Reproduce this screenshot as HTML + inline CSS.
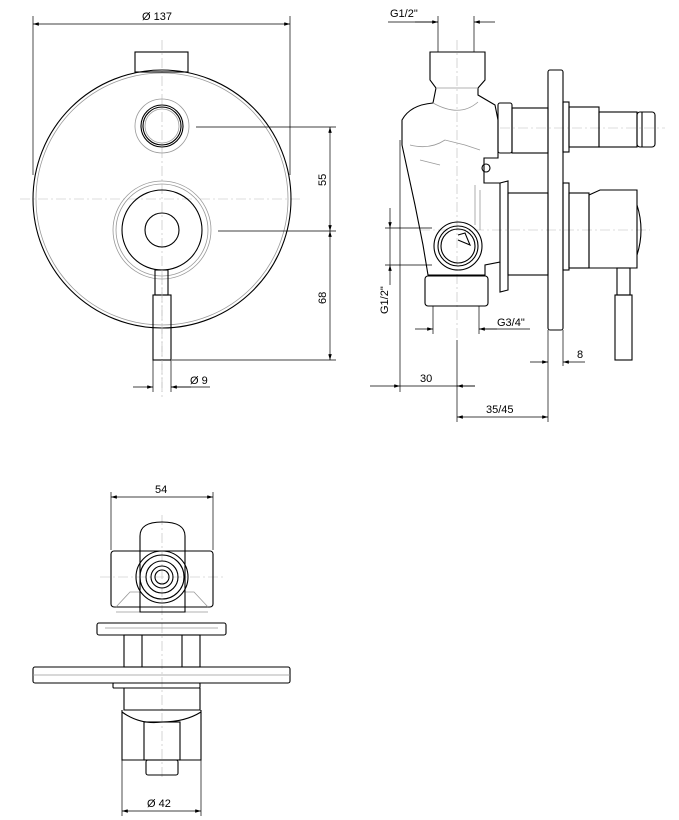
<!DOCTYPE html>
<html><head><meta charset="utf-8"><style>
html,body{margin:0;padding:0;background:#fff}
svg{display:block}
text{font-family:"Liberation Sans",sans-serif;font-size:11px;fill:#000}
.k{stroke:#000;stroke-width:1.1;fill:none}
.g{stroke:#999;stroke-width:0.8;fill:none}
.c{stroke:#bbb;stroke-width:0.6;fill:none;stroke-dasharray:10 3 2 3}
.d{stroke:#000;stroke-width:0.7;fill:none}
</style></head><body>
<svg width="679" height="820" viewBox="0 0 679 820" xmlns="http://www.w3.org/2000/svg">
<defs>
<marker id="a" viewBox="0 0 10 6" refX="10" refY="3" markerWidth="9" markerHeight="5" orient="auto-start-reverse"><path d="M0,0L10,3L0,6z" fill="#000"/></marker>
</defs>

<!-- FRONT VIEW -->
<line class="c" x1="20" y1="199" x2="300" y2="199"/>
<line class="c" x1="162" y1="40" x2="162" y2="400"/>
<rect class="k" x="135" y="52" width="53" height="20"/>
<circle cx="162" cy="199" r="129" fill="#fff" class="k"/>
<circle class="g" cx="162" cy="199" r="126"/>
<circle class="g" cx="162" cy="126" r="27"/>
<circle class="k" cx="162" cy="126" r="21"/>
<circle class="k" cx="162" cy="126" r="19"/>
<circle class="g" cx="162" cy="126" r="17"/>
<circle class="g" cx="162" cy="230" r="49"/>
<circle class="g" cx="162" cy="230" r="46"/>
<circle class="k" cx="162" cy="230" r="40"/>
<circle class="k" cx="162" cy="230" r="17"/>
<rect class="k" x="155" y="270" width="13" height="25" fill="#fff"/>
<rect class="k" x="153" y="295" width="18" height="65" fill="#fff"/>
<line class="c" x1="162" y1="270" x2="162" y2="392"/>
<!-- dims front -->
<line class="d" x1="33" y1="16" x2="33" y2="175"/>
<line class="d" x1="290" y1="16" x2="290" y2="175"/>
<line class="d" x1="33" y1="24" x2="290" y2="24" marker-start="url(#a)" marker-end="url(#a)"/>
<text x="142" y="20">Ø 137</text>
<line class="d" x1="196" y1="127" x2="336" y2="127"/>
<line class="d" x1="218" y1="231" x2="336" y2="231"/>
<line class="d" x1="172" y1="360" x2="336" y2="360"/>
<line class="d" x1="330" y1="127" x2="330" y2="231" marker-start="url(#a)" marker-end="url(#a)"/>
<line class="d" x1="330" y1="231" x2="330" y2="360" marker-start="url(#a)" marker-end="url(#a)"/>
<text transform="translate(326,186) rotate(-90)">55</text>
<text transform="translate(326,304) rotate(-90)">68</text>
<line class="d" x1="153" y1="360" x2="153" y2="392"/>
<line class="d" x1="171" y1="360" x2="171" y2="392"/>
<line class="d" x1="133" y1="387" x2="153" y2="387" marker-end="url(#a)"/>
<line class="d" x1="171" y1="387" x2="210" y2="387"/>
<line class="d" x1="191" y1="387" x2="171" y2="387" marker-end="url(#a)"/>
<text x="190" y="384">Ø 9</text>

<!-- SIDE VIEW -->
<line class="c" x1="457" y1="40" x2="457" y2="340"/>
<line class="c" x1="500" y1="128" x2="665" y2="128"/>
<line class="c" x1="420" y1="230" x2="650" y2="230"/>
<path class="k" d="M430,80 L430,52 L485,52 L485,80 L478,88 L478,95 L495,105 L498,120 L498,158 L484,158 L484,183 L500,183 L500,262 L485,265 L485,275 L428,275 L423,245 L415,205 L402,145 L402,120 Q410,105 433,103 L436,88 Z" fill="#fff"/>
<path class="g" d="M436,88 L478,88 M433,103 Q460,118 478,102 M410,145 Q430,150 445,140 L465,145 L480,150 M420,160 L440,165 M475,185 L475,225 M480,190 L480,230"/>
<circle class="k" cx="486" cy="168" r="4"/>
<rect class="k" x="498" y="103" width="14" height="50" rx="2"/>
<rect class="k" x="512" y="108" width="36" height="45"/>
<path class="k" d="M500,183 L508,181 L508,290 L500,292 L500,262" />
<rect class="k" x="508" y="193" width="40" height="82"/>
<circle class="k" cx="458" cy="246" r="24" fill="#fff"/>
<circle class="k" cx="458" cy="246" r="20"/>
<circle class="k" cx="458" cy="246" r="17"/>
<path class="k" d="M458,235 L465,233 L470,245 L458,240"/>
<rect class="k" x="425" y="276" width="63" height="30" rx="3" fill="#fff"/>
<rect class="k" x="548" y="70" width="15" height="260" rx="2" fill="#fff"/>
<rect class="k" x="563" y="102" width="6" height="50"/>
<rect class="k" x="569" y="107" width="30" height="40"/>
<rect class="k" x="599" y="112" width="38" height="35"/>
<rect class="k" x="637" y="112" width="18" height="35" rx="3"/>
<line class="k" x1="642" y1="112" x2="642" y2="147"/>
<rect class="k" x="563" y="183" width="6" height="87"/>
<rect class="k" x="569" y="193" width="20" height="75"/>
<path class="k" d="M589,195 L600,190 L637,190 L637,268 L589,268 Z"/>
<path class="k" d="M637,205 Q645,230 637,255"/>
<rect class="k" x="617" y="268" width="13" height="27"/>
<rect class="k" x="615" y="295" width="17" height="65"/>
<!-- side dims -->
<text x="390" y="17">G1/2"</text>
<line class="d" x1="438" y1="16" x2="438" y2="52"/>
<line class="d" x1="474" y1="16" x2="474" y2="52"/>
<line class="d" x1="388" y1="22" x2="438" y2="22"/>
<line class="d" x1="415" y1="22" x2="438" y2="22" marker-end="url(#a)"/>
<line class="d" x1="495" y1="22" x2="474" y2="22" marker-end="url(#a)"/>
<line class="d" x1="385" y1="228" x2="432" y2="228"/>
<line class="d" x1="385" y1="265" x2="432" y2="265"/>
<line class="d" x1="390" y1="208" x2="390" y2="228" marker-end="url(#a)"/>
<line class="d" x1="390" y1="285" x2="390" y2="265" marker-end="url(#a)"/>
<line class="d" x1="390" y1="228" x2="390" y2="265"/>
<text transform="translate(388,314) rotate(-90)">G1/2"</text>
<line class="d" x1="433" y1="306" x2="433" y2="334"/>
<line class="d" x1="479" y1="306" x2="479" y2="334"/>
<line class="d" x1="415" y1="329" x2="433" y2="329" marker-end="url(#a)"/>
<line class="d" x1="530" y1="329" x2="479" y2="329"/>
<line class="d" x1="497" y1="329" x2="479" y2="329" marker-end="url(#a)"/>
<text x="497" y="326">G3/4"</text>
<line class="d" x1="400" y1="140" x2="400" y2="392"/>
<line class="d" x1="457" y1="340" x2="457" y2="422"/>
<line class="d" x1="370" y1="386" x2="400" y2="386" marker-end="url(#a)"/>
<line class="d" x1="400" y1="386" x2="475" y2="386"/>
<line class="d" x1="475" y1="386" x2="457" y2="386" marker-end="url(#a)"/>
<text x="420" y="382">30</text>
<line class="d" x1="548" y1="330" x2="548" y2="422"/>
<line class="d" x1="563" y1="330" x2="563" y2="366"/>
<line class="d" x1="457" y1="417" x2="548" y2="417" marker-start="url(#a)" marker-end="url(#a)"/>
<text x="486" y="413">35/45</text>
<line class="d" x1="530" y1="362" x2="548" y2="362" marker-end="url(#a)"/>
<line class="d" x1="585" y1="362" x2="563" y2="362" marker-end="url(#a)"/>
<text x="577" y="358">8</text>

<!-- BOTTOM VIEW -->
<line class="c" x1="162" y1="515" x2="162" y2="780"/>
<line class="c" x1="100" y1="577" x2="225" y2="577"/>
<line class="d" x1="111" y1="492" x2="111" y2="550"/>
<line class="d" x1="213" y1="492" x2="213" y2="550"/>
<line class="d" x1="111" y1="497" x2="213" y2="497" marker-start="url(#a)" marker-end="url(#a)"/>
<text x="155" y="493">54</text>
<rect class="k" x="111" y="551" width="102" height="56" rx="3"/>
<path class="g" d="M116,607 L130,592 L140,592 M208,607 L194,592 L184,592 M116,612 L208,612"/>
<path class="k" d="M140,612 L140,536 Q140,522 162,522 Q185,522 185,536 L185,612 Z" fill="#fff"/>
<circle class="k" cx="162" cy="577" r="26" fill="#fff"/>
<circle class="k" cx="162" cy="577" r="22"/>
<circle class="k" cx="162" cy="577" r="16"/>
<circle class="k" cx="162" cy="577" r="11"/>
<circle class="k" cx="162" cy="577" r="7"/>
<rect class="k" x="97" y="623" width="129" height="12" rx="2" fill="#fff"/>
<line class="g" x1="105" y1="628" x2="218" y2="628"/>
<rect class="k" x="124" y="635" width="76" height="32"/>
<line class="k" x1="142" y1="635" x2="142" y2="667"/>
<line class="k" x1="182" y1="635" x2="182" y2="667"/>
<rect class="k" x="33" y="667" width="257" height="16" rx="2" fill="#fff"/>
<line class="g" x1="33" y1="675" x2="290" y2="675"/>
<rect class="k" x="113" y="683" width="87" height="5" rx="1"/>
<path class="k" d="M124,688 L124,710 L200,710 L200,688"/>
<path class="k" d="M122,710 L122,760 L201,760 L201,710 M122,712 Q140,725 162,722 Q185,722 201,712"/>
<rect class="k" x="144" y="722" width="36" height="38" fill="#fff"/>
<rect class="k" x="146" y="760" width="32" height="15" rx="2"/>
<line class="d" x1="122" y1="760" x2="122" y2="816"/>
<line class="d" x1="201" y1="760" x2="201" y2="816"/>
<line class="d" x1="122" y1="811" x2="201" y2="811" marker-start="url(#a)" marker-end="url(#a)"/>
<text x="147" y="807">Ø 42</text>
</svg>
</body></html>
